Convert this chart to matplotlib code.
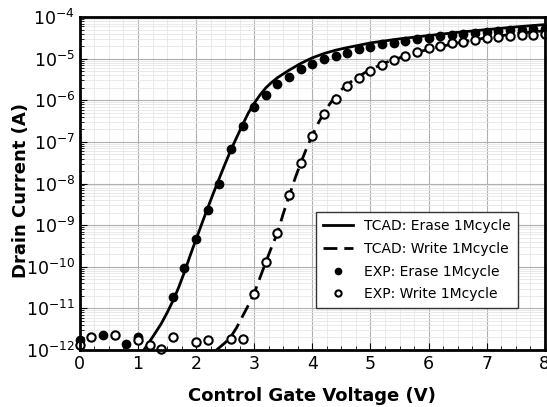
import numpy as np
import matplotlib
matplotlib.use("Agg")
import matplotlib.pyplot as plt
from matplotlib.ticker import MultipleLocator, LogLocator, NullFormatter

# TCAD simulation curves
tcad_erase_v = [1.1, 1.2, 1.3, 1.4, 1.5, 1.6, 1.7, 1.8, 1.9, 2.0, 2.1, 2.2, 2.3,
                2.4, 2.5, 2.6, 2.7, 2.8, 2.9, 3.0, 3.1, 3.2, 3.3, 3.4, 3.6,
                3.8, 4.0, 4.2, 4.4, 4.6, 4.8, 5.0, 5.5, 6.0, 6.5, 7.0, 7.5, 8.0]
tcad_erase_i = [1e-12, 1.6e-12, 2.6e-12, 4.3e-12, 7.8e-12, 1.5e-11, 3.2e-11,
                7.5e-11, 1.9e-10, 4.6e-10, 1.1e-9, 2.6e-9, 6e-9, 1.35e-8, 3e-8,
                6.5e-8, 1.3e-7, 2.6e-7, 5e-7, 8.5e-7, 1.35e-6, 2.0e-6, 2.7e-6,
                3.5e-6, 5.3e-6, 7.7e-6, 1.05e-5, 1.33e-5, 1.6e-5, 1.85e-5,
                2.1e-5, 2.4e-5, 3.0e-5, 3.6e-5, 4.3e-5, 5.0e-5, 5.8e-5, 6.6e-5]

tcad_write_v = [2.35, 2.5, 2.6, 2.7, 2.8, 2.9, 3.0, 3.1, 3.2, 3.3, 3.4, 3.5,
                3.6, 3.7, 3.8, 3.9, 4.0, 4.1, 4.2, 4.3, 4.4, 4.5, 4.6, 4.8,
                5.0, 5.25, 5.5, 6.0, 6.5, 7.0, 7.5, 8.0]
tcad_write_i = [1e-12, 1.5e-12, 2.1e-12, 3.5e-12, 6.5e-12, 1.2e-11, 2.3e-11,
                5.5e-11, 1.3e-10, 3e-10, 6.5e-10, 1.9e-9, 5e-9, 1.3e-8, 3.1e-8,
                7e-8, 1.45e-7, 2.8e-7, 5e-7, 8.2e-7, 1.25e-6, 1.8e-6, 2.4e-6,
                3.8e-6, 5.5e-6, 8e-6, 1.05e-5, 1.7e-5, 2.4e-5, 3.2e-5, 4.0e-5,
                4.7e-5]

# measured data
exp_erase_v = [0.0, 0.4, 0.8, 1.0, 1.6, 1.8, 2.0, 2.2, 2.4, 2.6, 2.8, 3.0,
               3.2, 3.4, 3.6, 3.8, 4.0, 4.2, 4.4, 4.6, 4.8, 5.0, 5.2, 5.4,
               5.6, 5.8, 6.0, 6.2, 6.4, 6.6, 6.8, 7.0, 7.2, 7.4, 7.6, 7.8, 8.0]
exp_erase_i = [1.7e-12, 2.3e-12, 1.4e-12, 2.0e-12, 1.85e-11, 9.3e-11, 4.6e-10,
               2.3e-9, 9.8e-9, 6.7e-8, 2.4e-7, 6.9e-7, 1.33e-6, 2.45e-6,
               3.6e-6, 5.6e-6, 7.4e-6, 9.8e-6, 1.15e-5, 1.36e-5, 1.7e-5,
               1.9e-5, 2.2e-5, 2.4e-5, 2.6e-5, 2.9e-5, 3.1e-5, 3.5e-5, 3.7e-5,
               4.0e-5, 4.2e-5, 4.4e-5, 4.6e-5, 4.8e-5, 4.9e-5, 5.1e-5, 5.3e-5]

exp_write_v = [0.0, 0.2, 0.6, 1.0, 1.2, 1.4, 1.6, 2.0, 2.2, 2.6, 2.8, 3.0,
               3.2, 3.4, 3.6, 3.8, 4.0, 4.2, 4.4, 4.6, 4.8, 5.0, 5.2, 5.4,
               5.6, 5.8, 6.0, 6.2, 6.4, 6.6, 6.8, 7.0, 7.2, 7.4, 7.6, 7.8, 8.0]
exp_write_i = [1.3e-12, 2.0e-12, 2.3e-12, 1.7e-12, 1.3e-12, 1.05e-12, 2.1e-12,
               1.55e-12, 1.7e-12, 1.8e-12, 1.8e-12, 2.2e-11, 1.3e-10, 6.4e-10,
               5.2e-9, 3.1e-8, 1.38e-7, 4.7e-7, 1.07e-6, 2.2e-6, 3.5e-6, 5e-6,
               7e-6, 9.3e-6, 1.15e-5, 1.45e-5, 1.8e-5, 2.0e-5, 2.35e-5, 2.5e-5,
               2.8e-5, 3.1e-5, 3.3e-5, 3.5e-5, 3.7e-5, 3.8e-5, 3.9e-5]

fig = plt.figure(figsize=(5.47, 4.07), dpi=100)
ax = fig.add_axes([0.146, 0.140, 0.850, 0.818])

ax.plot(tcad_erase_v, tcad_erase_i, "k-", lw=2, label="TCAD: Erase 1Mcycle")
ax.plot(tcad_write_v, tcad_write_i, "k--", lw=2, dashes=(5, 2.5),
        label="TCAD: Write 1Mcycle")
ax.plot(exp_erase_v, exp_erase_i, "o", color="k", ms=6, ls="none",
        label="EXP: Erase 1Mcycle", clip_on=False)
ax.plot(exp_write_v, exp_write_i, "o", mfc="white", mec="k", mew=1.5, ms=6,
        ls="none", label="EXP: Write 1Mcycle", clip_on=False)

ax.set_yscale("log")
ax.set_xlim(0, 8)
ax.set_ylim(1e-12, 1e-4)
ax.xaxis.set_major_locator(MultipleLocator(1))
ax.xaxis.set_minor_locator(MultipleLocator(0.25))
ax.yaxis.set_major_locator(LogLocator(base=10, numticks=20))
ax.yaxis.set_minor_locator(LogLocator(base=10, subs=np.arange(2, 10), numticks=100))
ax.yaxis.set_minor_formatter(NullFormatter())

ax.grid(which="major", color="#b0b0b0", lw=0.8)
ax.grid(which="minor", color="#e6e6e6", lw=0.6)
ax.set_axisbelow(True)

ax.tick_params(which="both", direction="in", labelsize=12.5)
ax.tick_params(which="major", length=5)
ax.tick_params(which="minor", length=3)
for s in ax.spines.values():
    s.set_linewidth(2)

ax.set_xlabel("Control Gate Voltage (V)", fontsize=13, fontweight="bold", labelpad=10)
ax.set_ylabel("Drain Current (A)", fontsize=13, fontweight="bold")
ax.yaxis.set_label_coords(-0.108, 0.48)

leg = ax.legend(loc="lower right", bbox_to_anchor=(0.942, 0.126), fontsize=10,
                fancybox=False, edgecolor="#333333", framealpha=1,
                borderaxespad=0, handlelength=2.2, markerscale=0.75,
                borderpad=0.5, labelspacing=0.62)
leg.get_frame().set_linewidth(1)

fig.savefig("out.png", dpi=100)
